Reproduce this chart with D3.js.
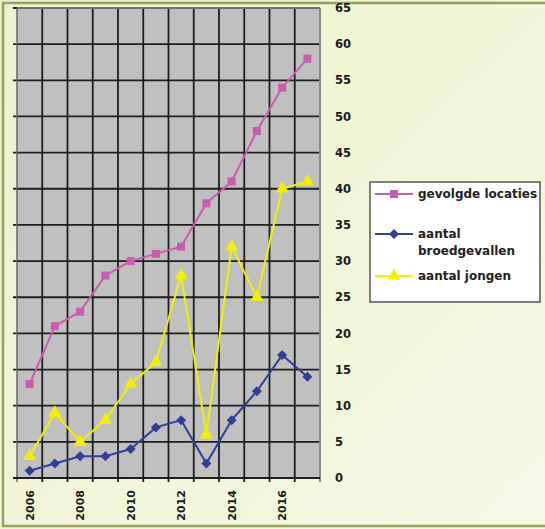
<!DOCTYPE html>
<html>
<head>
<meta charset="utf-8">
<script src="https://cdn.jsdelivr.net/npm/d3@7"></script>
<style>
  body { margin: 0; background: #fff; }
  svg { display: block; }
</style>
</head>
<body>
<div id="chart"></div>
<script>
// Data________________________________________________________________
const years = [2006, 2007, 2008, 2009, 2010, 2011, 2012, 2013, 2014, 2015, 2016, 2017];
const yearLabels = [2006, 2008, 2010, 2012, 2014, 2016];
const locaties = [13, 21, 23, 28, 30, 31, 32, 38, 41, 48, 54, 58];
const broedgevallen = [1, 2, 3, 3, 4, 7, 8, 2, 8, 12, 17, 14];
const jongen = [3, 9, 5, 8, 13, 16, 28, 6, 32, 25, 40, 41];
const yTicks = d3.range(0, 66, 5);

const series = [
  { name: ['gevolgde locaties'], values: locaties, color: '#c85cb0', shape: d3.symbolSquare, size: 64, rot: 0 },
  { name: ['aantal', 'broedgevallen'], values: broedgevallen, color: '#2f3f98', shape: d3.symbolSquare, size: 50, rot: 45 },
  { name: ['aantal jongen'], values: jongen, color: '#f2f000', shape: d3.symbolTriangle, size: 75, rot: 0 }
];

// Variables___________________________________________________________
const width = 545, height = 529;
const plot = { left: 17, right: 320, top: 8, bottom: 478 };
const font = 'DejaVu Sans, Verdana, sans-serif';

const svg = d3.select('#chart').append('svg')
  .attr('width', width)
  .attr('height', height);

// background
const grad = svg.append('defs').append('linearGradient')
  .attr('id', 'bg').attr('x1', 0).attr('y1', 0).attr('x2', 1).attr('y2', 1);
grad.append('stop').attr('offset', 0).attr('stop-color', '#edf2c8');
grad.append('stop').attr('offset', 1).attr('stop-color', '#f6f9e6');

svg.append('rect').attr('width', width).attr('height', height).attr('fill', 'url(#bg)');
svg.append('rect')
  .attr('x', 3).attr('y', 3).attr('width', width + 10).attr('height', height - 6)
  .attr('fill', 'none').attr('stroke', '#98a062').attr('stroke-width', 2.5);

// Scales______________________________________________________________
const x = d3.scaleBand().domain(years).range([plot.left, plot.right]);
const y = d3.scaleLinear().domain([0, 65]).range([plot.bottom, plot.top]);

// plot area
svg.append('rect')
  .attr('x', plot.left).attr('y', plot.top)
  .attr('width', plot.right - plot.left).attr('height', plot.bottom - plot.top)
  .attr('fill', '#c1c0c1');

// grid
svg.append('g').selectAll('line')
  .data(yTicks.slice(1))
  .enter().append('line')
  .attr('x1', plot.left - 4).attr('x2', plot.right)
  .attr('y1', d => y(d)).attr('y2', d => y(d))
  .attr('stroke', '#1e1e1e').attr('stroke-width', 1.8);

svg.append('g').selectAll('line')
  .data(years.slice(1))
  .enter().append('line')
  .attr('x1', d => x(d)).attr('x2', d => x(d))
  .attr('y1', plot.top).attr('y2', plot.bottom + 4)
  .attr('stroke', '#1e1e1e').attr('stroke-width', 1.8);

// plot border
svg.append('line')
  .attr('x1', plot.right).attr('x2', plot.right)
  .attr('y1', plot.top).attr('y2', plot.bottom + 4)
  .attr('stroke', '#8a8a8a').attr('stroke-width', 2);
svg.append('line')
  .attr('x1', plot.left).attr('x2', plot.right)
  .attr('y1', plot.top).attr('y2', plot.top)
  .attr('stroke', '#8a8a8a').attr('stroke-width', 1.5);
svg.append('line')
  .attr('x1', plot.left).attr('x2', plot.left)
  .attr('y1', plot.top).attr('y2', plot.bottom + 4)
  .attr('stroke', '#666').attr('stroke-width', 1.5);
svg.append('line')
  .attr('x1', plot.left - 4).attr('x2', plot.right)
  .attr('y1', plot.bottom).attr('y2', plot.bottom)
  .attr('stroke', '#1e1e1e').attr('stroke-width', 1.8);

// Axes________________________________________________________________
const yAxis = d3.axisRight(y).tickValues(yTicks).tickSize(0).tickPadding(15);
svg.append('g')
  .attr('transform', `translate(${plot.right}, 0)`)
  .call(yAxis)
  .call(g => g.select('.domain').remove())
  .selectAll('text')
  .attr('font-family', font)
  .attr('font-weight', 'bold')
  .attr('font-size', 11.5)
  .attr('fill', '#1a1a1a');

svg.append('g').selectAll('text')
  .data(yearLabels)
  .enter().append('text')
  .attr('transform', d => `translate(${x(d) + x.bandwidth() / 2 + 4}, 490) rotate(-90)`)
  .attr('text-anchor', 'end')
  .attr('font-family', font)
  .attr('font-weight', 'bold')
  .attr('font-size', 11)
  .attr('fill', '#1a1a1a')
  .text(d => d);

// Lines_______________________________________________________________
const cx = (d, i) => x(years[i]) + x.bandwidth() / 2;
const line = d3.line().x(cx).y(d => y(d));

series.slice().reverse().forEach(s => {
  svg.append('path')
    .datum(s.values)
    .attr('d', line)
    .attr('fill', 'none')
    .attr('stroke', s.color)
    .attr('stroke-width', 2);
  svg.append('g').selectAll('path')
    .data(s.values)
    .enter().append('path')
    .attr('d', d3.symbol().type(s.shape).size(s.size))
    .attr('transform', (d, i) => `translate(${cx(d, i)}, ${y(d)}) rotate(${s.rot})`)
    .attr('fill', s.color);
});

// Legend______________________________________________________________
const legend = svg.append('g');
legend.append('rect')
  .attr('x', 370).attr('y', 182).attr('width', 170).attr('height', 120)
  .attr('fill', '#fff').attr('stroke', '#555').attr('stroke-width', 1.5);

const legendRows = [194, 234, 276];
series.forEach((s, i) => {
  const ly = legendRows[i];
  legend.append('line')
    .attr('x1', 375).attr('x2', 413).attr('y1', ly).attr('y2', ly)
    .attr('stroke', s.color).attr('stroke-width', 1.8);
  legend.append('path')
    .attr('d', d3.symbol().type(s.shape).size(s.size))
    .attr('transform', `translate(394, ${ly}) rotate(${s.rot})`)
    .attr('fill', s.color);
  s.name.forEach((t, j) => {
    legend.append('text')
      .attr('x', 418).attr('y', ly + j * 17)
      .attr('dy', '0.35em')
      .attr('font-family', font)
      .attr('font-weight', 'bold')
      .attr('font-size', 12)
      .attr('fill', '#222')
      .text(t);
  });
});
</script>
</body>
</html>
